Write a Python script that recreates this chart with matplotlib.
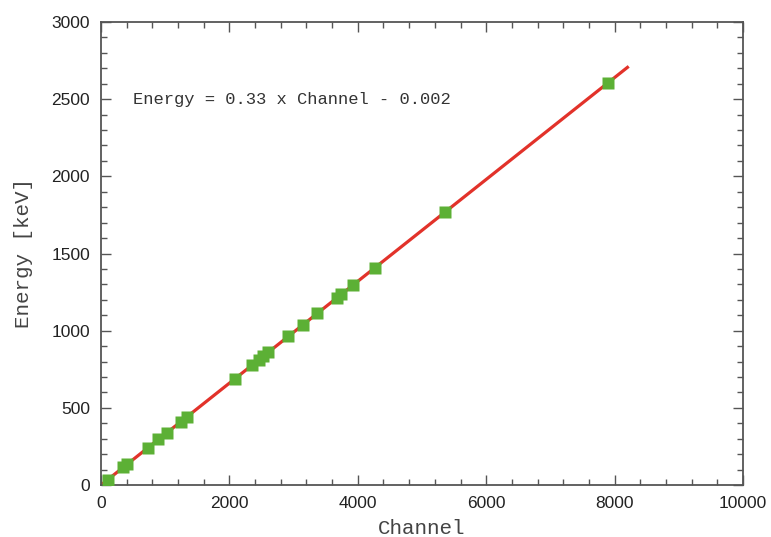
import numpy as np
import matplotlib.pyplot as plt
from matplotlib.ticker import MultipleLocator

# Calibration points
channel = [105, 350, 410, 725, 893, 1030, 1240, 1340, 2080, 2355, 2460, 2530,
           2605, 2920, 3140, 3370, 3670, 3745, 3930, 4265, 5365, 7890]
energy = [35, 115, 135, 239, 295, 340, 409, 442, 686, 777, 812, 835,
          860, 964, 1036, 1112, 1211, 1236, 1297, 1407, 1770, 2604]

# Fit line
fit_x = [0, 8200]
slope = 0.33
offset = -0.002

fig = plt.figure(figsize=(7.71, 5.37), dpi=100)
ax = fig.add_axes([101 / 771, 1 - 485 / 537, 642 / 771, 463 / 537])

fx = np.array(fit_x)
ax.plot(fx, slope * fx + offset, color='#e2322a', lw=2.3, zorder=2)
ax.plot(channel, energy, 's', color='#5cb035', ms=8, mec='none', zorder=3)

ax.set_xlim(0, 10000)
ax.set_ylim(0, 3000)
ax.xaxis.set_major_locator(MultipleLocator(2000))
ax.xaxis.set_minor_locator(MultipleLocator(400))
ax.yaxis.set_major_locator(MultipleLocator(500))
ax.yaxis.set_minor_locator(MultipleLocator(100))

ax.tick_params(which='both', direction='in', top=True, right=True, color='#555555')
ax.tick_params(which='major', length=7, width=1, labelsize=12.5, pad=8,
               labelcolor='#222222')
ax.tick_params(which='minor', length=4, width=1)
for lab in ax.get_xticklabels() + ax.get_yticklabels():
    lab.set_family('Liberation Sans')
for s in ax.spines.values():
    s.set_color('#555555')
    s.set_linewidth(1.3)

ax.set_xlabel('Channel', family='Liberation Mono', fontsize=15, color='#444444', labelpad=6)
ax.set_ylabel('Energy [keV]', family='Liberation Mono', fontsize=15, color='#444444', labelpad=13)

ax.text(500, 2495, 'Energy = 0.33 x Channel - 0.002', family='Liberation Mono',
        fontsize=12.3, color='#333333', va='center')

fig.savefig('out.png', dpi=100)
